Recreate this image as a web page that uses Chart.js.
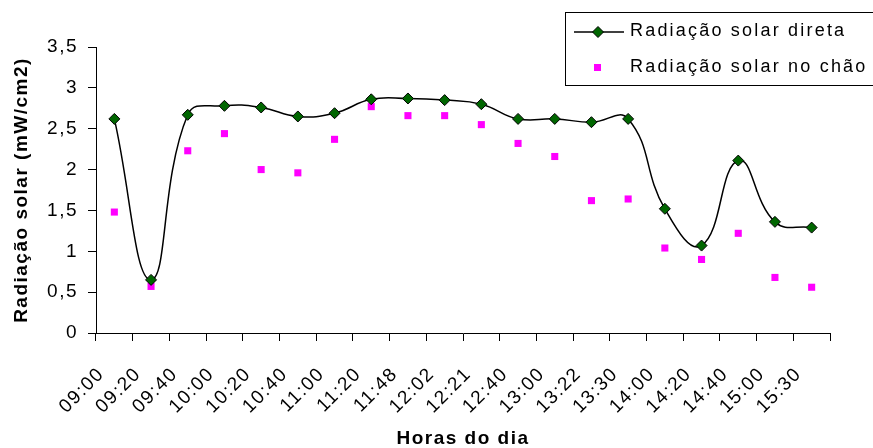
<!DOCTYPE html>
<html lang="pt">
<head>
    <meta charset="UTF-8">
    <title>Radiação solar</title>
    <script src="https://cdn.jsdelivr.net/npm/chart.js@4.4.0/dist/chart.umd.min.js"></script>
    <style>
        * { margin: 0; padding: 0; box-sizing: border-box; }
        body { background: #fff; width: 873px; height: 448px; overflow: hidden; }
        .chart-box { position: relative; width: 873px; height: 448px; }
    </style>
</head>
<body>
    <div class="chart-box">
        <canvas id="radChart"></canvas>
    </div>

    <script>
        const horas = ['09:00', '09:20', '09:40', '10:00', '10:20', '10:40', '11:00', '11:20', '11:48', '12:02',
                       '12:21', '12:40', '13:00', '13:22', '13:30', '14:00', '14:20', '14:40', '15:00', '15:30'];
        const radDireta = [2.62, 0.65, 2.67, 2.78, 2.76, 2.65, 2.69, 2.86, 2.87, 2.85,
                           2.80, 2.62, 2.62, 2.58, 2.62, 1.52, 1.07, 2.11, 1.36, 1.29];
        const radChao = [1.48, 0.57, 2.23, 2.44, 2.00, 1.96, 2.37, 2.77, 2.66, 2.66,
                         2.55, 2.32, 2.16, 1.62, 1.64, 1.04, 0.90, 1.22, 0.68, 0.56];
        const yTicks = [0, 0.5, 1, 1.5, 2, 2.5, 3, 3.5];

        const fontFamily = "'Liberation Sans', Arial, sans-serif";

        // texto um pouco espaçado, como no original
        const spacing = {
            id: 'spacing',
            beforeDraw(chart) { chart.ctx.letterSpacing = '1.5px'; }
        };

        // legenda em caixa, desenhada sobre o gráfico
        const boxLegend = {
            id: 'boxLegend',
            afterDraw(chart) {
                const ctx = chart.ctx;
                const sets = chart.data.datasets;
                ctx.save();
                ctx.fillStyle = '#fff';
                ctx.fillRect(565, 12, 320, 73);
                ctx.strokeStyle = '#000';
                ctx.lineWidth = 1;
                ctx.strokeRect(565.5, 12.5, 320, 73);

                // linha + losango
                ctx.beginPath();
                ctx.moveTo(574, 32);
                ctx.lineTo(624, 32);
                ctx.lineWidth = 1.5;
                ctx.stroke();
                ctx.fillStyle = sets[0].pointBackgroundColor;
                ctx.beginPath();
                ctx.moveTo(598, 26.5); ctx.lineTo(603.5, 32); ctx.lineTo(598, 37.5); ctx.lineTo(592.5, 32); ctx.closePath();
                ctx.fill();
                ctx.lineWidth = 1;
                ctx.stroke();

                // quadrado
                ctx.fillStyle = sets[1].pointBackgroundColor;
                ctx.fillRect(594, 64, 7, 7);

                ctx.fillStyle = '#000';
                ctx.font = '18px ' + fontFamily;
                ctx.textBaseline = 'middle';
                ctx.letterSpacing = '2.2px';
                ctx.fillText(sets[0].label, 630, 31);
                ctx.fillText(sets[1].label, 630, 67);
                ctx.restore();
            }
        };

        const ctx = document.getElementById('radChart').getContext('2d');

        new Chart(ctx, {
            type: 'line',
            data: {
                labels: horas,
                datasets: [{
                    label: 'Radiação solar direta',
                    data: radDireta,
                    borderColor: '#000',
                    borderWidth: 1.5,
                    tension: 0.45,
                    pointStyle: 'rectRot',
                    pointRadius: 5.5,
                    pointBackgroundColor: '#006600',
                    pointBorderColor: '#000',
                    pointBorderWidth: 1,
                    fill: false
                }, {
                    label: 'Radiação solar no chão',
                    data: radChao,
                    showLine: false,
                    pointStyle: 'rect',
                    pointRadius: 5,
                    pointBackgroundColor: '#ff00ff',
                    pointBorderColor: '#ff00ff',
                    pointBorderWidth: 0
                }]
            },
            options: {
                responsive: true,
                maintainAspectRatio: false,
                animation: false,
                layout: { padding: { left: 10, top: 47, right: 43, bottom: 0 } },
                plugins: {
                    legend: { display: false },
                    tooltip: { enabled: false }
                },
                scales: {
                    x: {
                        offset: true,
                        grid: {
                            offset: true,
                            drawOnChartArea: false,
                            color: '#000',
                            tickLength: 8
                        },
                        border: { color: '#000', width: 1 },
                        ticks: {
                            color: '#000',
                            font: { family: fontFamily, size: 19 },
                            minRotation: 45,
                            maxRotation: 45,
                            autoSkip: false,
                            padding: 22,
                            labelOffset: -13
                        },
                        title: {
                            display: true,
                            text: 'Horas do dia',
                            color: '#000',
                            font: { family: fontFamily, size: 19, weight: 'bold', lineHeight: 1 },
                            padding: { top: 0, bottom: 0 }
                        },
                        afterFit(scale) { scale.height = 115; }
                    },
                    y: {
                        min: 0,
                        max: 3.5,
                        afterBuildTicks(scale) {
                            scale.ticks = yTicks.map(v => ({ value: v }));
                        },
                        grid: {
                            drawOnChartArea: false,
                            color: '#000',
                            tickLength: 8
                        },
                        border: { color: '#000', width: 1 },
                        ticks: {
                            color: '#000',
                            font: { family: fontFamily, size: 19 },
                            padding: 10,
                            callback: v => String(v).replace('.', ',')
                        },
                        title: {
                            display: true,
                            text: 'Radiação solar (mW/cm2)',
                            color: '#000',
                            font: { family: fontFamily, size: 19, weight: 'bold' },
                            padding: { top: 0, bottom: 4 }
                        },
                        afterFit(scale) { scale.width = 86; }
                    }
                }
            },
            plugins: [spacing, boxLegend]
        });
    </script>
</body>
</html>
